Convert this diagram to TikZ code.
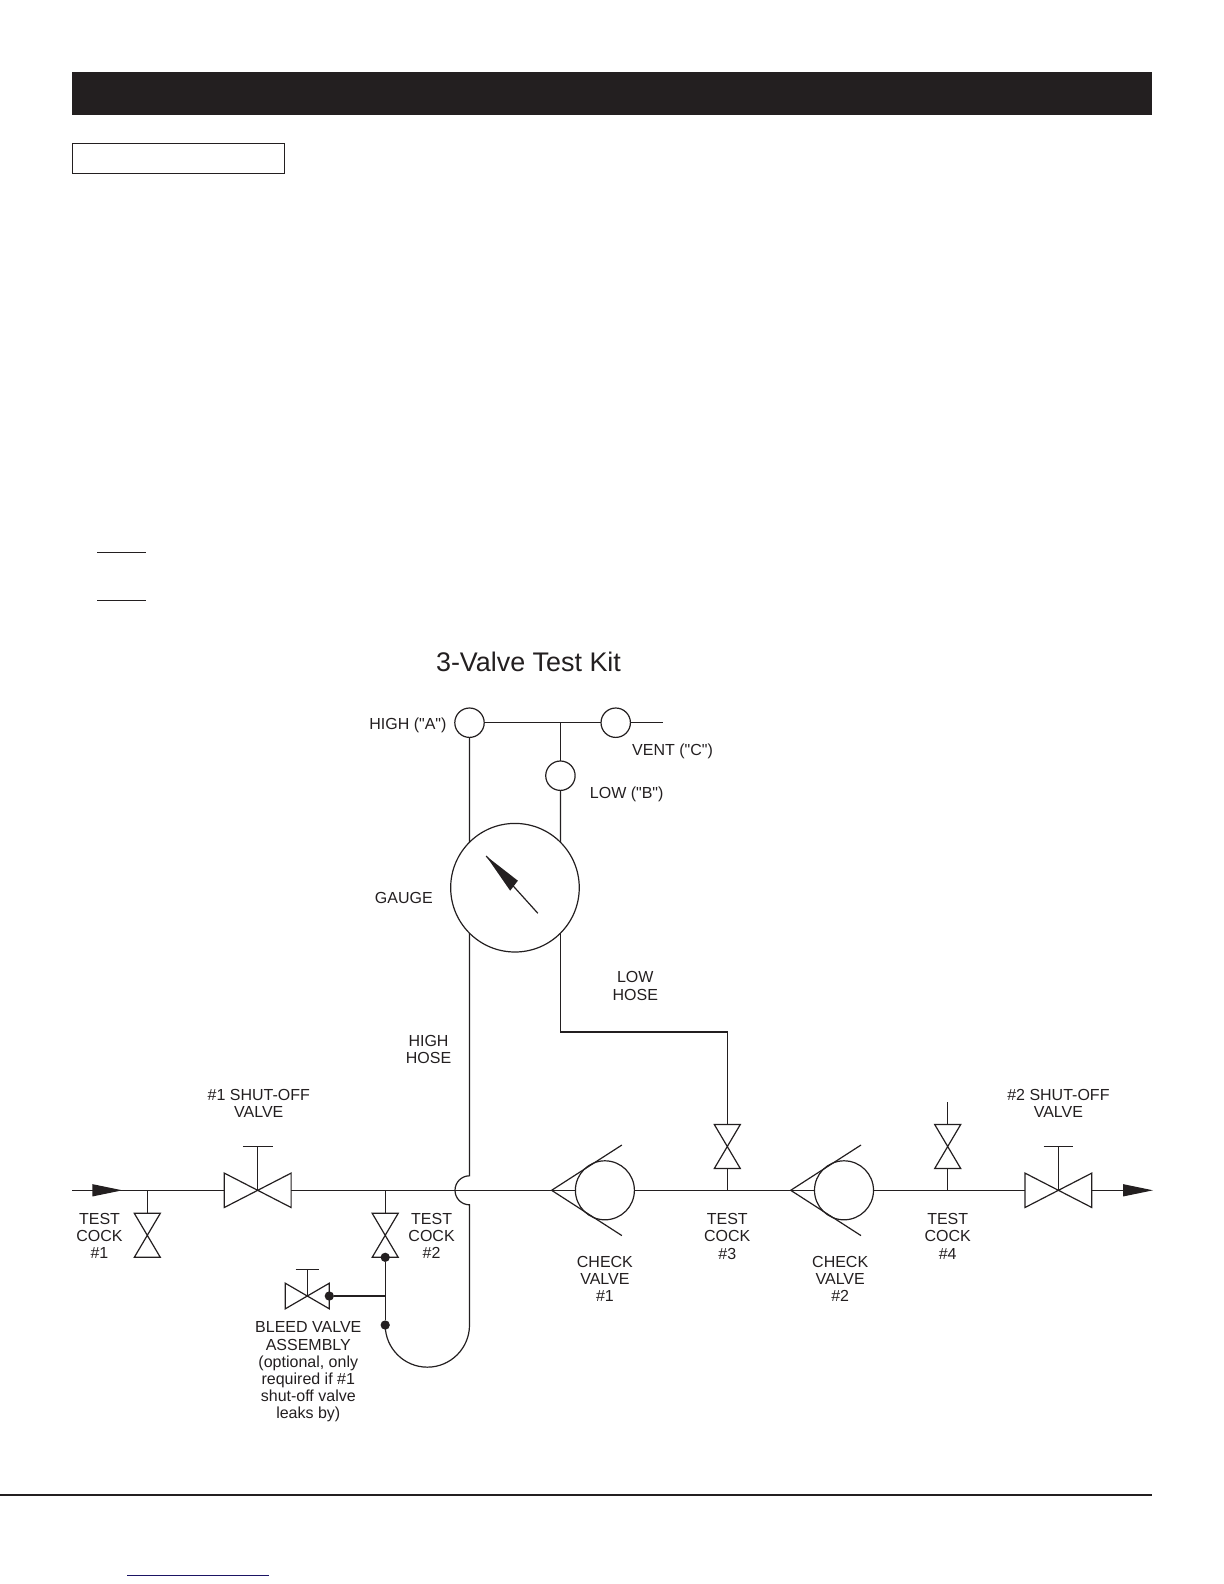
\documentclass[tikz,border=0pt]{standalone}
\usepackage{fontspec}
\setmainfont{Liberation Sans}[Ligatures=TeXOff]
\usepackage{tikz}
\usetikzlibrary{positioning,arrows.meta}
\usetikzlibrary{decorations.markings}
\definecolor{inkblack}{HTML}{231F20}
\definecolor{linkblue}{HTML}{1B1464}
\tikzset{
	flowtip/.tip={Triangle[length=15pt,width=6pt]},
	pipe/.style={line width=0.6pt,draw=inkblack},
	inflow/.style={postaction={decorate}, decoration={markings,mark=at position 25pt with {\arrow[inkblack]{flowtip}}}},
	port/.style={circle,pipe,inner sep=0pt,outer sep=0pt,minimum size=14.7pt},
	ball/.style={circle,pipe,inner sep=0pt,outer sep=0pt,minimum size=29.5pt},
	dial/.style={circle,pipe,inner sep=0pt,outer sep=0pt,minimum size=64.3pt},
	blackdot/.style={circle,fill=inkblack,inner sep=0pt,outer sep=0pt,minimum size=4.65pt},
	lbl/.style={inner sep=0pt,align=center,text=inkblack,font=\fontsize{8pt}{8.6pt}\selectfont},
	pagerule/.style={line width=0.65pt,draw=inkblack},
	pics/cock/.style={code={
		\draw[pipe] (-6.5pt,11pt) -- (6.5pt,11pt) -- (-6.5pt,-11pt) -- (6.5pt,-11pt) -- cycle;
		\coordinate (-top) at (0,11pt);
		\coordinate (-bot) at (0,-11pt);
	}},
	pics/gate/.style n args={4}{code={
		\draw[pipe] (-#1,#2) -- (#1,-#2) -- (#1,#2) -- (-#1,-#2) -- cycle;
		\draw[pipe] (0,0) -- (0,#3);
		\draw[pipe] (-#4,#3) -- (#4,#3);
		\coordinate (-west) at (-#1,0);
		\coordinate (-east) at (#1,0);
	}},
	pics/check/.style={code={
		\node[ball] (-ball) at (0,0) {};
		\coordinate (-tip) at (-26.65pt,0);
		\draw[pipe] (8.5pt,22.65pt) -- (-tip) -- (8.5pt,-22.65pt);
	}},
}
\begin{document}
\begin{tikzpicture}
    \coordinate (page) at (0,0);
    \useasboundingbox (page) rectangle (612pt,-792pt);

    \coordinate[below right=36pt and 36pt of page] (bar1);
    \coordinate[below right=57.4pt and 576.2pt of page] (bar2);
    \coordinate[below right=71.7pt and 36.2pt of page] (box1);
    \coordinate[below right=86.7pt and 142.3pt of page] (box2);
    \coordinate[below right=276.2pt and 48.5pt of page] (ul1);
    \coordinate[right=24.5pt of ul1] (ul2);
    \coordinate[below=24pt of ul1] (ul3);
    \coordinate[right=24.5pt of ul3] (ul4);
    \coordinate[below=747.5pt of page] (foot1);
    \coordinate[right=576.2pt of foot1] (foot2);
    \coordinate[below right=787.7pt and 63.5pt of page] (link1);
    \coordinate[right=71pt of link1] (link2);

    \coordinate[below right=595.15pt and 36.2pt of page] (inlet);
    \coordinate[right=37.45pt of inlet] (tj1);
    \coordinate[right=55.2pt of tj1] (sv1c);
    \coordinate[right=63.75pt of sv1c] (tj2);
    \coordinate[right=42.15pt of tj2] (xhose);
    \coordinate[right=67.7pt of xhose] (cv1c);
    \coordinate[right=61.2pt of cv1c] (tj3);
    \coordinate[right=58.35pt of tj3] (cv2c);
    \coordinate[right=51.85pt of cv2c] (tj4);
    \coordinate[right=55.35pt of tj4] (sv2c);
    \coordinate[right=47.35pt of sv2c] (outlet);

    \coordinate[below=22.5pt of tj1] (tc1c);
    \coordinate[below=22.5pt of tj2] (tc2c);
    \coordinate[above=21.9pt of tj3] (tc3c);
    \coordinate[above=21.9pt of tj4] (tc4c);
    \coordinate[above=22.1pt of tc4c] (tc4end);
    \coordinate[above=57.25pt of tc3c] (lowcorner);

    \coordinate[below=7.25pt of xhose] (jumpbot);
    \coordinate[below=52.85pt of tj2] (bleedtee);
    \coordinate[left=38.95pt of bleedtee] (bleedc);

    \pic (tc1) at (tc1c) {cock};
    \pic (tc2) at (tc2c) {cock};
    \pic (tc3) at (tc3c) {cock};
    \pic (tc4) at (tc4c) {cock};
    \pic (sv1) at (sv1c) {gate={16.7pt}{8.6pt}{21.8pt}{7.4pt}};
    \pic (sv2) at (sv2c) {gate={16.7pt}{8.6pt}{21.8pt}{7.4pt}};
    \pic (bleed) at (bleedc) {gate={11pt}{6.4pt}{13.2pt}{5.9pt}};
    \pic (cv1) at (cv1c) {check};
    \pic (cv2) at (cv2c) {check};

    \node[blackdot] (dottop) at (tc2-bot) {};
    \node[blackdot] (dotbleed) at (bleed-east) {};
    \node[blackdot, below=14.5pt of bleedtee, anchor=center] (dothose) {};

    \node[port, above=233.8pt of xhose, anchor=center] (high) {};
    \coordinate[right=45.46pt of high.center] (tee);
    \node[port, right=27.65pt of tee, anchor=center] (vent) {};
    \coordinate[right=23.85pt of vent.center] (ventend);
    \node[port, below=26.5pt of tee, anchor=center] (low) {};
    \node[dial, below right=82.5pt and 22.73pt of high.center, anchor=center] (gauge) {};

    \coordinate[above left=15.85pt and 14.4pt of gauge.center] (needletip);
    \coordinate[above right=3.5pt and 1.45pt of gauge.center] (needle1);
    \coordinate[below left=1.5pt and 2.4pt of gauge.center] (needle2);
    \coordinate[below right=12.8pt and 11.45pt of gauge.center] (needleend);

    \fill[inkblack] (bar1) rectangle (bar2);
    \draw[pagerule] (box1) rectangle (box2);
    \draw[pagerule] (ul1) -- (ul2);
    \draw[pagerule] (ul3) -- (ul4);
    \draw[pagerule] (foot1) -- (foot2);
    \draw[line width=0.7pt,draw=linkblue] (link1) -- (link2);

    \draw[pipe,inflow] (inlet) -- (tj1);
    \draw[pipe] (tj1) -- (sv1-west);
    \draw[pipe] (sv1-east) -- (cv1-tip);
    \draw[pipe] (cv1-tip) -- (cv1-ball);
    \draw[pipe] (cv1-ball) -- (cv2-tip);
    \draw[pipe] (cv2-tip) -- (cv2-ball);
    \draw[pipe] (cv2-ball) -- (sv2-west);
    \draw[pipe,-flowtip] (sv2-east) -- (outlet);

    \draw[pipe] (tj1) -- (tc1-top);
    \draw[pipe] (tj2) -- (tc2-top);
    \draw[pipe] (tj3) -- (tc3-bot);
    \draw[pipe] (tj4) -- (tc4-bot);
    \draw[pipe] (tc4-top) -- (tc4end);

    \draw[pipe] (dottop) -- (dothose);
    \draw[pipe] (dotbleed) -- (bleedtee);
    \draw[pipe] (dothose.center) arc[start angle=180,end angle=360,radius=21.075pt] -- (jumpbot) arc[start angle=270,end angle=90,radius=7.25pt] -- (gauge.south west);

    \draw[pipe] (gauge.north west) -- (high);
    \draw[pipe] (high) -- (vent);
    \draw[pipe] (vent) -- (ventend);
    \draw[pipe] (tee) -- (low);
    \draw[pipe] (low) -- (gauge.north east);
    \draw[pipe] (gauge.south east) |- (lowcorner) -- (tc3-top);

    \fill[inkblack] (needletip) -- (needle1) -- (needle2) -- cycle;
    \draw[pipe] (needletip) -- (needleend);

    \node[inner sep=0pt,text=inkblack,font=\fontsize{13.45pt}{15pt}\selectfont, above right=30.4pt and 29.5pt of high.center, anchor=center] (title) {3-Valve Test Kit};
    \node[lbl, below left=1.3pt and 30.8pt of high.center, anchor=center] (highlbl) {HIGH ("A")};
    \node[lbl, below right=14.1pt and 28.4pt of vent.center, anchor=center] (ventlbl) {VENT ("C")};
    \node[lbl, below right=9.15pt and 33.15pt of low.center, anchor=center] (lowlbl) {LOW ("B")};
    \node[lbl, below left=5.15pt and 55.55pt of gauge.center, anchor=center] (gaugelbl) {GAUGE};
    \node[lbl, above left=23pt and 46pt of lowcorner, anchor=center] (lowhose) {LOW\\HOSE};
    \node[lbl, above left=70.3pt and 20.5pt of xhose, anchor=center] (highhose) {HIGH\\HOSE};
    \node[lbl, above right=43.5pt and 0.55pt of sv1c, anchor=center] (sv1lbl) {\#1 SHUT-OFF\\VALVE};
    \node[lbl, above=43.5pt of sv2c, anchor=center] (sv2lbl) {\#2 SHUT-OFF\\VALVE};
    \node[lbl, below left=0.3pt and 23.9pt of tc1c, anchor=center] (tc1lbl) {TEST\\COCK\\\#1};
    \node[lbl, below right=0.3pt and 23.2pt of tc2c, anchor=center] (tc2lbl) {TEST\\COCK\\\#2};
    \node[lbl, below=23pt of tj3, anchor=center] (tc3lbl) {TEST\\COCK\\\#3};
    \node[lbl, below=23pt of tj4, anchor=center] (tc4lbl) {TEST\\COCK\\\#4};
    \node[lbl, below=44.15pt of cv1c, anchor=center] (cv1lbl) {CHECK\\VALVE\\\#1};
    \node[lbl, below left=44.15pt and 1.9pt of cv2c, anchor=center] (cv2lbl) {CHECK\\VALVE\\\#2};
    \node[lbl, below right=38pt and 0.5pt of bleedc, anchor=center] (bleedlbl) {BLEED VALVE\\ASSEMBLY\\(optional, only\\required if \#1\\shut-off valve\\leaks by)};
\end{tikzpicture}
\end{document}
